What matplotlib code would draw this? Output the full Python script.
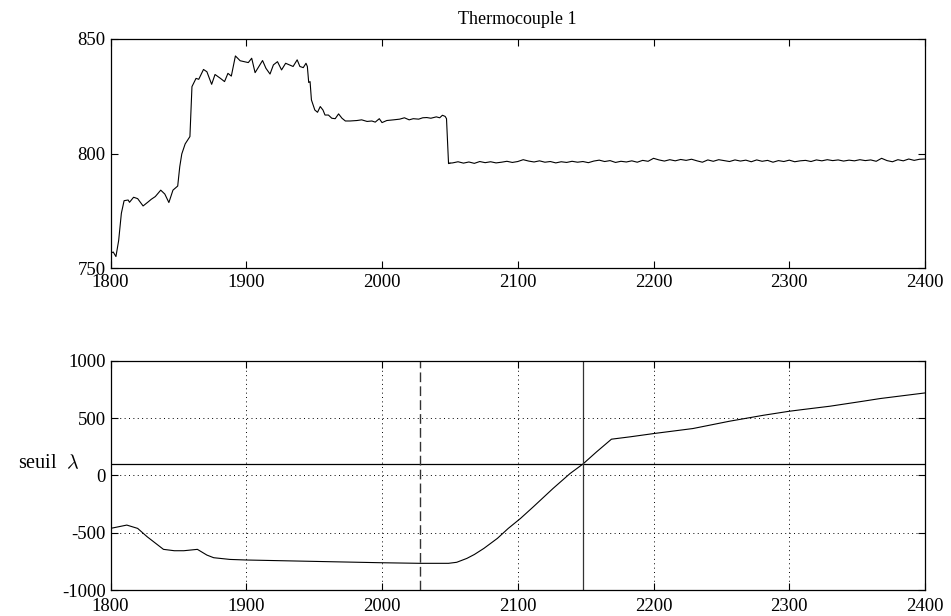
import numpy as np
import matplotlib
matplotlib.use("Agg")
import matplotlib.pyplot as plt
import matplotlib.transforms as mtransforms

plt.rcParams['font.family'] = ['Liberation Serif', 'DejaVu Serif']
plt.rcParams['mathtext.fontset'] = 'cm'
plt.rcParams['axes.unicode_minus'] = False

# --- thermocouple 1 : transient part
temp_t1 = [1800, 1802, 1804, 1806, 1808, 1810, 1813, 1814, 1817, 1820,
           1824, 1828, 1830, 1833, 1837, 1840, 1843, 1846, 1849.5, 1851,
           1852.5, 1855, 1858.5, 1860, 1863, 1865, 1868.5, 1871, 1874.5, 1877,
           1881, 1884, 1886.5, 1889, 1892, 1895.5, 1901.5, 1904, 1906.5, 1912,
           1914.5, 1917.5, 1920, 1923, 1926, 1929, 1934.5, 1937.5, 1939.5, 1942,
           1944, 1945, 1946, 1947, 1948, 1950.5, 1952.5, 1954.5, 1956.5, 1958,
           1960.5, 1963, 1965.5, 1968, 1970.5, 1973, 1976.5, 1981.5, 1985, 1989,
           1992.5, 1995, 1998, 2000, 2003.5, 2008.5, 2013, 2016.5, 2020, 2023,
           2027, 2030, 2033, 2036, 2040, 2042.5, 2044.5, 2046.5, 2047.5, 2049]
temp_v1 = [756.4, 757.0, 755.0, 762.0, 773.9, 779.4, 779.7, 778.7, 780.9, 780.3,
           777.1, 779.0, 780.0, 781.2, 784.0, 782.3, 778.6, 784.0, 785.8, 794.2,
           799.8, 804.2, 807.4, 829.2, 832.8, 832.4, 836.7, 835.7, 830.2, 834.5,
           832.8, 831.4, 835.0, 833.8, 842.6, 840.5, 839.7, 841.6, 835.3, 840.6,
           837.2, 834.7, 838.7, 840.1, 836.5, 839.4, 838.0, 840.9, 838.0, 837.5,
           839.4, 838.0, 831.0, 831.4, 823.4, 819.0, 818.0, 820.5, 819.0, 816.8,
           816.8, 815.4, 815.2, 817.3, 815.4, 814.2, 814.2, 814.4, 814.7, 814.0,
           814.2, 813.7, 815.2, 813.5, 814.4, 814.7, 815.0, 815.6, 814.7, 815.2,
           815.0, 815.6, 815.7, 815.4, 816.0, 815.6, 816.7, 816.2, 815.2, 795.6]

# --- thermocouple 1 : steady part, one reading every 4 samples from 2052
temp_t2 = np.arange(2052, 2401, 4)
temp_v2 = [795.9, 796.4, 795.8, 796.3, 795.7, 796.5, 796.0, 796.4, 795.9, 796.2, 796.6,
           796.1, 796.5, 797.3, 796.7, 796.3, 796.8, 796.2, 796.5, 795.9, 796.4, 796.1,
           796.6, 796.2, 796.5, 796.0, 796.7, 797.1, 796.5, 796.9, 796.1, 796.6, 796.3,
           796.8, 796.2, 797.0, 796.6, 797.9, 797.2, 796.7, 797.3, 796.8, 797.4, 797.0,
           797.5, 796.8, 796.2, 797.2, 796.6, 797.3, 796.9, 796.5, 797.2, 796.7, 797.1,
           796.4, 797.2, 796.6, 797.0, 796.2, 796.9, 796.5, 797.1, 796.4, 796.8, 797.0,
           796.5, 797.2, 796.8, 797.3, 796.9, 797.2, 796.7, 797.1, 796.8, 797.3, 796.9,
           797.2, 796.6, 797.9, 796.9, 796.4, 797.3, 796.8, 797.6, 797.0, 797.5, 797.6]

# --- decision function vs threshold
lam_t = [1800, 1812, 1820, 1827, 1839, 1847, 1854, 1864, 1871, 1876,
         1888, 1900, 1962, 2000, 2028, 2049, 2055, 2062.5, 2068, 2075,
         2085, 2093, 2102, 2111.5, 2126, 2138.5, 2148, 2158, 2169, 2183,
         2200, 2229, 2256, 2281, 2300, 2310, 2330, 2354, 2367, 2400]
lam_v = [-462, -433, -462, -535, -645, -657, -657, -645, -695, -718,
         -733, -738, -753, -762, -767, -767, -758, -724, -690, -637,
         -549, -462, -375, -273, -113, 17, 100, 206, 317, 338,
         366, 410, 474, 526, 561, 576, 605, 648, 672, 721]
seuil = 100
t_alarm_start = 2028
t_alarm = 2148

fig = plt.figure(figsize=(9.51, 6.16), dpi=100)
ax1 = fig.add_axes([0.1162, 0.5649, 0.8565, 0.3718])
ax2 = fig.add_axes([0.1162, 0.0422, 0.8565, 0.3718])

ax1.plot(temp_t1 + [2050], temp_v1 + [795.8], color='k', lw=0.8)
ax1.plot(np.r_[2050, temp_t2], np.r_[795.8, temp_v2], color='k', lw=0.8)
ax1.set_xlim(1800, 2400)
ax1.set_ylim(750, 850)
ax1.set_yticks([750, 800, 850])
ax1.set_xticks([1800, 1900, 2000, 2100, 2200, 2300, 2400])
ax1.set_title('Thermocouple 1', fontsize=13, pad=11)
ax1.tick_params(axis='x', pad=4.5)

ax2.plot(lam_t, lam_v, color='k', lw=0.8)
ax2.axhline(seuil, color='k', lw=0.9)
ax2.axvline(t_alarm_start, color='#333333', lw=1.0, linestyle=(0, (7, 3)))
ax2.axvline(t_alarm, color='#333333', lw=0.9)
ax2.set_xlim(1800, 2400)
ax2.set_ylim(-1000, 1000)
ax2.set_yticks([-1000, -500, 0, 500, 1000])
ax2.set_xticks([1800, 1900, 2000, 2100, 2200, 2300, 2400])
ax2.grid(True, color='k', lw=0.7, linestyle=(0, (1, 3.5)))
ax2.tick_params(axis='x', pad=6)
trans = mtransforms.blended_transform_factory(ax2.transAxes, ax2.transData)
ax2.text(-0.039, seuil, r'seuil  $\lambda$', transform=trans, ha='right',
         va='center', fontsize=14.5)

for ax in (ax1, ax2):
    ax.tick_params(direction='in', length=5, width=0.8, top=True, right=True,
                   labelsize=13.5, colors='k')
    for s in ax.spines.values():
        s.set_linewidth(0.9)

fig.savefig('out.png', dpi=100)
